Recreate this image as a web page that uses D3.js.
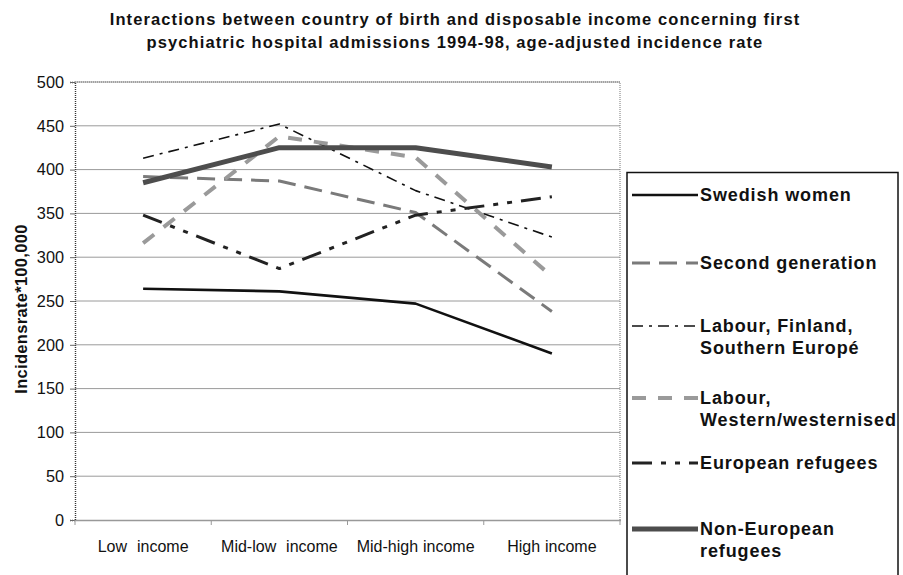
<!DOCTYPE html>
<html>
<head>
<meta charset="utf-8">
<script src="https://cdn.jsdelivr.net/npm/d3@7"></script>
<style>
  body { margin: 0; background: #fff; }
  svg { display: block; font-family: Arial, "Liberation Sans", sans-serif; }
</style>
</head>
<body>
<svg id="chart" width="903" height="575"></svg>
<script>
const categories = ["Low  income", "Mid-low  income", "Mid-high income", "High income"];
const yTicks = [0, 50, 100, 150, 200, 250, 300, 350, 400, 450, 500];
const swedishWomen = [264, 261, 247, 190];
const secondGeneration = [392, 387, 351, 238];
const labourFinland = [413, 452, 376, 323];
const labourWestern = [316, 438, 414, 278];
const europeanRefugees = [348, 287, 348, 369];
const nonEuropeanRefugees = [385, 425, 425, 403];

const series = [
  { name: ["Swedish women"], values: swedishWomen, color: "#111", width: 2.6, dash: null, ly: 195 },
  { name: ["Second generation"], values: secondGeneration, color: "#7a7a7a", width: 3, dash: "18,9", ly: 263 },
  { name: ["Labour, Finland,", "Southern Europé"], values: labourFinland, color: "#111", width: 1.6, dash: "11,6,3,6", ly: 326 },
  { name: ["Labour,", "Western/westernised"], values: labourWestern, color: "#9a9a9a", width: 4, dash: "14,12", ly: 398 },
  { name: ["European refugees"], values: europeanRefugees, color: "#222", width: 3, dash: "20,9,5,9,5,9", ly: 463 },
  { name: ["Non-European", "refugees"], values: nonEuropeanRefugees, color: "#4d4d4d", width: 5, dash: null, ly: 529 }
];

const svg = d3.select("#chart");
const mLeft = 75, mRight = 620, mTop = 82, mBottom = 520;

const x = d3.scaleBand().domain(categories).range([mLeft, mRight]);
const y = d3.scaleLinear().domain([0, 500]).range([mBottom, mTop]);

// Title
const title = svg.append("text").attr("text-anchor", "middle")
  .attr("font-weight", "bold").attr("font-size", 16.5).attr("letter-spacing", 1.1)
  .attr("fill", "#111");
title.append("tspan").attr("x", 455).attr("y", 25)
  .text("Interactions between country of birth and disposable income concerning first");
title.append("tspan").attr("x", 455).attr("y", 48)
  .text("psychiatric hospital admissions 1994-98, age-adjusted incidence rate");

// Gridlines
svg.append("g").selectAll("line").data(yTicks.filter(d => d > 0)).join("line")
  .attr("x1", mLeft).attr("x2", mRight)
  .attr("y1", d => y(d)).attr("y2", d => y(d))
  .attr("stroke", "#9a9a9a").attr("stroke-width", 1);

// Plot border (top and right dotted)
svg.append("path")
  .attr("d", `M${mLeft},${mTop}H${mRight}V${mBottom}`)
  .attr("fill", "none").attr("stroke", "#777").attr("stroke-width", 1)
  .attr("stroke-dasharray", "1,1");

// Y axis
const yAxis = svg.append("g").attr("transform", `translate(${mLeft},0)`)
  .call(d3.axisLeft(y).tickValues(yTicks).tickSize(5).tickPadding(6));
yAxis.select(".domain").attr("stroke", "#333").attr("stroke-dasharray", "1,1").attr("stroke-width", 1.4);
yAxis.selectAll(".tick line").attr("stroke", "#666");
yAxis.selectAll("text").attr("font-size", 16.3).attr("fill", "#111")
  .attr("font-family", "Arial, 'Liberation Sans', sans-serif");

// X axis
const xAxis = svg.append("g").attr("transform", `translate(0,${mBottom})`)
  .call(d3.axisBottom(x).tickSize(0).tickPadding(21));
xAxis.select(".domain").attr("stroke", "#333").attr("stroke-dasharray", "1,1").attr("stroke-width", 1.4);
xAxis.selectAll("text").attr("font-size", 16).attr("fill", "#111")
  .attr("font-family", "Arial, 'Liberation Sans', sans-serif")
  .attr("word-spacing", 0.5)
  .style("white-space", "pre");
// category boundary ticks
const bounds = categories.map(c => x(c)).concat([mRight]);
svg.append("g").selectAll("line").data(bounds).join("line")
  .attr("x1", d => d).attr("x2", d => d)
  .attr("y1", mBottom).attr("y2", mBottom + 5)
  .attr("stroke", "#999");

// Y axis title
svg.append("text")
  .attr("transform", "translate(27,309) rotate(-90)")
  .attr("text-anchor", "middle").attr("font-weight", "bold")
  .attr("font-size", 16.5).attr("letter-spacing", 0.3).attr("fill", "#111")
  .text("Incidensrate*100,000");

// Lines
const line = d3.line()
  .x((d, i) => x(categories[i]) + x.bandwidth() / 2)
  .y(d => y(d));

svg.append("g").selectAll("path").data(series).join("path")
  .attr("d", d => line(d.values))
  .attr("fill", "none")
  .attr("stroke", d => d.color)
  .attr("stroke-width", d => d.width)
  .attr("stroke-dasharray", d => d.dash)
  .attr("stroke-linejoin", "round");

// Legend
const lg = svg.append("g");
lg.append("rect").attr("x", 627).attr("y", 172.5).attr("width", 271).attr("height", 420)
  .attr("fill", "#fff").attr("stroke", "#111").attr("stroke-width", 1.5);

series.forEach(s => {
  lg.append("line").attr("x1", 632).attr("x2", 698)
    .attr("y1", s.ly).attr("y2", s.ly)
    .attr("stroke", s.color).attr("stroke-width", s.width)
    .attr("stroke-dasharray", s.dash);
  const t = lg.append("text").attr("font-weight", "bold").attr("font-size", 18)
    .attr("fill", "#111").attr("letter-spacing", 0.9);
  s.name.forEach((n, i) => {
    t.append("tspan").attr("x", 700).attr("y", s.ly + 6 + i * 22).text(n);
  });
});
</script>
</body>
</html>
